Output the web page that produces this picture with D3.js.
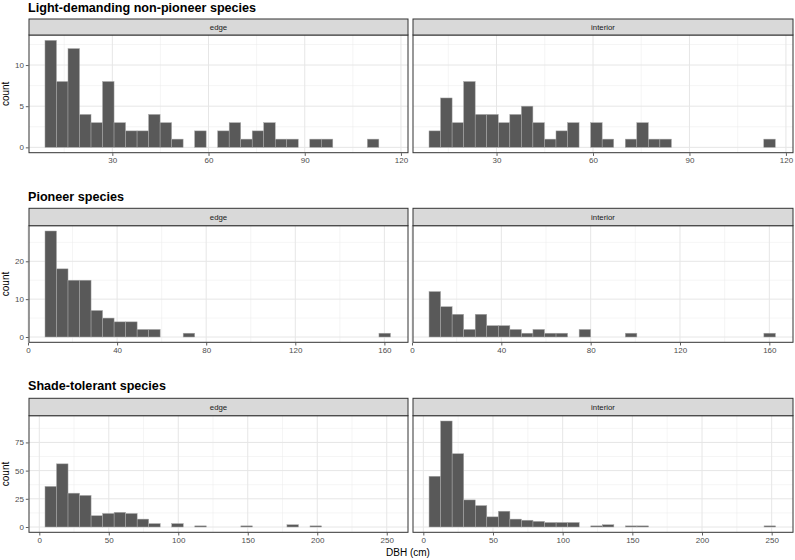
<!DOCTYPE html>
<html>
<head>
<meta charset="utf-8">
<script src="https://cdn.jsdelivr.net/npm/d3@7"></script>
<style>
  html, body { margin: 0; padding: 0; background: #ffffff; }
  svg { display: block; font-family: "Liberation Sans", Arial, Helvetica, sans-serif; }
</style>
</head>
<body>
<svg id="chart" width="795" height="560"></svg>
<script>
// ---------------- data ----------------
const rowTitles = ["Light-demanding non-pioneer species", "Pioneer species", "Shade-tolerant species"];
const facetLabels = ["edge", "interior"];

// histogram counts, 30 bins per row (shared bins within a row)
const ldEdge     = [13, 8, 12, 4, 3, 8, 3, 2, 2, 4, 3, 1, 0, 2, 0, 2, 3, 1, 2, 3, 1, 1, 0, 1, 1, 0, 0, 0, 1, 0];
const ldInterior = [2, 6, 3, 8, 4, 4, 3, 4, 5, 3, 1, 2, 3, 0, 3, 1, 0, 1, 3, 1, 1, 0, 0, 0, 0, 0, 0, 0, 0, 1];
const pEdge      = [28, 18, 15, 15, 7, 5, 4, 4, 2, 2, 0, 0, 1, 0, 0, 0, 0, 0, 0, 0, 0, 0, 0, 0, 0, 0, 0, 0, 0, 1];
const pInterior  = [12, 8, 6, 2, 6, 3, 3, 2, 1, 2, 1, 1, 0, 2, 0, 0, 0, 1, 0, 0, 0, 0, 0, 0, 0, 0, 0, 0, 0, 1];
const stEdge     = [36, 56, 30, 28, 10, 12, 13, 12, 7, 3, 0, 3, 0, 1, 0, 0, 0, 1, 0, 0, 0, 2, 0, 1, 0, 0, 0, 0, 0, 0];
const stInterior = [45, 94, 65, 24, 19, 9, 14, 7, 6, 5, 4, 4, 4, 0, 1, 2, 0, 1, 1, 0, 0, 0, 0, 0, 0, 0, 0, 0, 0, 1];

// bin start (cm) and bin width (cm) for each row
const binStarts = [9.0, 7.63, 4.1];
const binWidths = [3.59, 5.17, 8.29];

// x-axis domains and tick labels per row
const xDomains = [[4.02, 122.2], [0.45, 170.6], [-7.41, 265.3]];
const xTicks = [[30, 60, 90, 120], [0, 40, 80, 120, 160], [0, 50, 100, 150, 200, 250]];
const yTicks = [[0, 5, 10], [0, 10, 20], [0, 25, 50, 75]];

const xTitle = "DBH (cm)";
const yTitle = "count";

const rowsData = [[ldEdge, ldInterior], [pEdge, pInterior], [stEdge, stInterior]];

// ---------------- layout ----------------
const svg = d3.select("#chart");
svg.append("rect").attr("width", 795).attr("height", 560).attr("fill", "#ffffff");

const panelX = [[29, 408], [413, 793]];
const rowLayout = [
  { titleY: 11.6, stripTop: 19,    panelTop: 35,    panelBottom: 152.7 },
  { titleY: 200.7, stripTop: 208.3, panelTop: 225.7, panelBottom: 342.3 },
  { titleY: 389.7, stripTop: 398.3, panelTop: 415.7, panelBottom: 532.3 }
];

function minorBreaks(majors, domain) {
  const step = majors[1] - majors[0];
  const out = [];
  for (let v = majors[0] - step / 2; v <= domain[1]; v += step) {
    if (v >= domain[0] && v <= domain[1]) out.push(v);
  }
  return out;
}

rowsData.forEach((pair, r) => {
  const L = rowLayout[r];
  const maxC = d3.max(pair.flat());
  const y = d3.scaleLinear().domain([-0.05 * maxC, 1.05 * maxC]).range([L.panelBottom, L.panelTop]);

  // row title
  svg.append("text")
    .attr("x", 28).attr("y", L.titleY)
    .attr("font-size", 12.6).attr("font-weight", "bold").attr("fill", "#000")
    .text(rowTitles[r]);

  // y axis title
  const midY = (L.panelTop + L.panelBottom) / 2;
  svg.append("text")
    .attr("transform", `translate(8.5,${midY}) rotate(-90)`)
    .attr("text-anchor", "middle")
    .attr("font-size", 10).attr("fill", "#000")
    .text(yTitle);

  pair.forEach((counts, f) => {
    const [px0, px1] = panelX[f];
    const x = d3.scaleLinear().domain(xDomains[r]).range([px0, px1]);
    const g = svg.append("g");

    // panel background
    g.append("rect").attr("x", px0).attr("y", L.panelTop)
      .attr("width", px1 - px0).attr("height", L.panelBottom - L.panelTop)
      .attr("fill", "#ffffff");

    // grid (minor then major)
    const xMin = minorBreaks(xTicks[r], xDomains[r]);
    const yMin = minorBreaks(yTicks[r], y.domain());
    g.selectAll(".vmin").data(xMin).enter().append("line")
      .attr("x1", d => x(d)).attr("x2", d => x(d))
      .attr("y1", L.panelTop).attr("y2", L.panelBottom)
      .attr("stroke", "#ebebeb").attr("stroke-width", 0.5);
    g.selectAll(".hmin").data(yMin).enter().append("line")
      .attr("y1", d => y(d)).attr("y2", d => y(d))
      .attr("x1", px0).attr("x2", px1)
      .attr("stroke", "#ebebeb").attr("stroke-width", 0.5);
    g.selectAll(".vmaj").data(xTicks[r]).enter().append("line")
      .attr("x1", d => x(d)).attr("x2", d => x(d))
      .attr("y1", L.panelTop).attr("y2", L.panelBottom)
      .attr("stroke", "#e6e6e6").attr("stroke-width", 1);
    g.selectAll(".hmaj").data(yTicks[r]).enter().append("line")
      .attr("y1", d => y(d)).attr("y2", d => y(d))
      .attr("x1", px0).attr("x2", px1)
      .attr("stroke", "#e6e6e6").attr("stroke-width", 1);

    // bars
    const bins = counts.map((c, i) => ({
      x0: binStarts[r] + i * binWidths[r],
      x1: binStarts[r] + (i + 1) * binWidths[r],
      c: c
    })).filter(d => d.c > 0);
    g.selectAll(".bar").data(bins).enter().append("rect")
      .attr("x", d => x(d.x0))
      .attr("width", d => x(d.x1) - x(d.x0))
      .attr("y", d => y(d.c))
      .attr("height", d => y(0) - y(d.c))
      .attr("fill", "#595959")
      .attr("stroke", "#a9a9a9")
      .attr("stroke-width", 0.5);

    // panel border
    g.append("rect").attr("x", px0).attr("y", L.panelTop)
      .attr("width", px1 - px0).attr("height", L.panelBottom - L.panelTop)
      .attr("fill", "none").attr("stroke", "#333333").attr("stroke-width", 1);

    // strip
    g.append("rect").attr("x", px0).attr("y", L.stripTop)
      .attr("width", px1 - px0).attr("height", L.panelTop - L.stripTop)
      .attr("fill", "#d9d9d9").attr("stroke", "#333333").attr("stroke-width", 1);
    g.append("text")
      .attr("x", (px0 + px1) / 2).attr("y", (L.stripTop + L.panelTop) / 2 + 2.8)
      .attr("text-anchor", "middle").attr("font-size", 7.8).attr("fill", "#1a1a1a")
      .text(facetLabels[f]);

    // x axis
    const xAxis = d3.axisBottom(x).tickValues(xTicks[r]).tickSize(2.7).tickPadding(1.8)
      .tickFormat(d3.format("d"));
    const xg = g.append("g").attr("transform", `translate(0,${L.panelBottom + 0.5})`).call(xAxis);
    xg.select(".domain").remove();
    xg.selectAll("line").attr("stroke", "#333333").attr("stroke-width", 0.8);
    xg.selectAll("text").attr("font-size", 8).attr("fill", "#4d4d4d")
      .attr("font-family", "Liberation Sans, Arial, sans-serif");

    // y axis (left facet only)
    if (f === 0) {
      const yAxis = d3.axisLeft(y).tickValues(yTicks[r]).tickSize(2.7).tickPadding(1.8)
        .tickFormat(d3.format("d"));
      const yg = g.append("g").attr("transform", `translate(${px0 - 0.5},0)`).call(yAxis);
      yg.select(".domain").remove();
      yg.selectAll("line").attr("stroke", "#333333").attr("stroke-width", 0.8);
      yg.selectAll("text").attr("font-size", 8).attr("fill", "#4d4d4d")
        .attr("font-family", "Liberation Sans, Arial, sans-serif");
    }
  });
});

// x axis title
svg.append("text")
  .attr("x", 408).attr("y", 555.5)
  .attr("text-anchor", "middle").attr("font-size", 10).attr("fill", "#000")
  .text(xTitle);
</script>
</body>
</html>
